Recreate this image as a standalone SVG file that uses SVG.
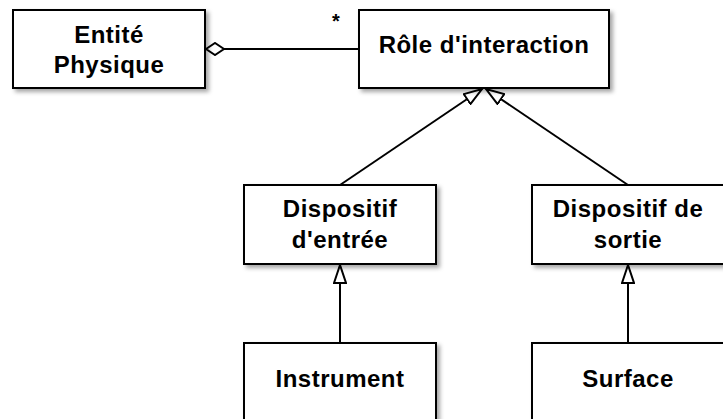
<svg xmlns="http://www.w3.org/2000/svg" width="723" height="419" viewBox="0 0 723 419">
  <style>
    .box { fill: #fff; stroke: #000; stroke-width: 2; filter: url(#shadow); }
    .lbl { font-family: "Liberation Sans", Arial, Helvetica, sans-serif; font-weight: bold; font-size: 24px; letter-spacing: 0.5px; fill: #000; text-anchor: middle; }
    .mult { font-family: "Liberation Sans", Arial, sans-serif; font-weight: bold; font-size: 20px; fill: #000; text-anchor: middle; }
    .edge { fill: none; stroke: #000; stroke-width: 2; }
  </style>
  <defs>
    <filter id="shadow" x="-10%" y="-10%" width="130%" height="140%">
      <feDropShadow dx="3" dy="3" stdDeviation="2" flood-color="#000" flood-opacity="0.35"/>
    </filter>
    <!-- hollow triangle for generalization -->
    <marker id="gen" viewBox="0 0 20 14" refX="19" refY="7" markerWidth="20" markerHeight="14" markerUnits="userSpaceOnUse" orient="auto">
      <path d="M1,1 L19,7 L1,13 Z" fill="#fff" stroke="#000" stroke-width="2" stroke-linejoin="miter"/>
    </marker>
    <!-- hollow diamond for aggregation -->
    <marker id="agg" viewBox="0 0 20 14" refX="1" refY="7" markerWidth="20" markerHeight="14" markerUnits="userSpaceOnUse" orient="auto">
      <path d="M1,7 L10,1 L19,7 L10,13 Z" fill="#fff" stroke="#000" stroke-width="2"/>
    </marker>
  </defs>

  <g id="connectors">
    <line class="edge" x1="206" y1="49" x2="359" y2="49" marker-start="url(#agg)"/>
    <text class="mult" x="336" y="28">*</text>
    <line class="edge" x1="340" y1="185" x2="482" y2="89" marker-end="url(#gen)"/>
    <line class="edge" x1="628" y1="185" x2="486" y2="89" marker-end="url(#gen)"/>
    <line class="edge" x1="340" y1="343" x2="340" y2="265" marker-end="url(#gen)"/>
    <line class="edge" x1="628" y1="343" x2="628" y2="265" marker-end="url(#gen)"/>
  </g>

  <g id="entite-physique">
    <rect class="box" x="13" y="10" width="192" height="78"/>
    <text class="lbl" x="109" y="43">Entité</text>
    <text class="lbl" x="109" y="73">Physique</text>
  </g>

  <g id="role-interaction">
    <rect class="box" x="359" y="10" width="250" height="78"/>
    <text class="lbl" x="484" y="53">Rôle d'interaction</text>
  </g>

  <g id="dispositif-entree">
    <rect class="box" x="244" y="185" width="192" height="79"/>
    <text class="lbl" x="340" y="217">Dispositif</text>
    <text class="lbl" x="340" y="248">d'entrée</text>
  </g>

  <g id="dispositif-sortie">
    <rect class="box" x="532" y="185" width="192" height="79"/>
    <text class="lbl" x="628" y="217">Dispositif de</text>
    <text class="lbl" x="628" y="248">sortie</text>
  </g>

  <g id="instrument">
    <rect class="box" x="244" y="343" width="192" height="90"/>
    <text class="lbl" x="340" y="387">Instrument</text>
  </g>

  <g id="surface">
    <rect class="box" x="532" y="343" width="192" height="90"/>
    <text class="lbl" x="628" y="387">Surface</text>
  </g>
</svg>
